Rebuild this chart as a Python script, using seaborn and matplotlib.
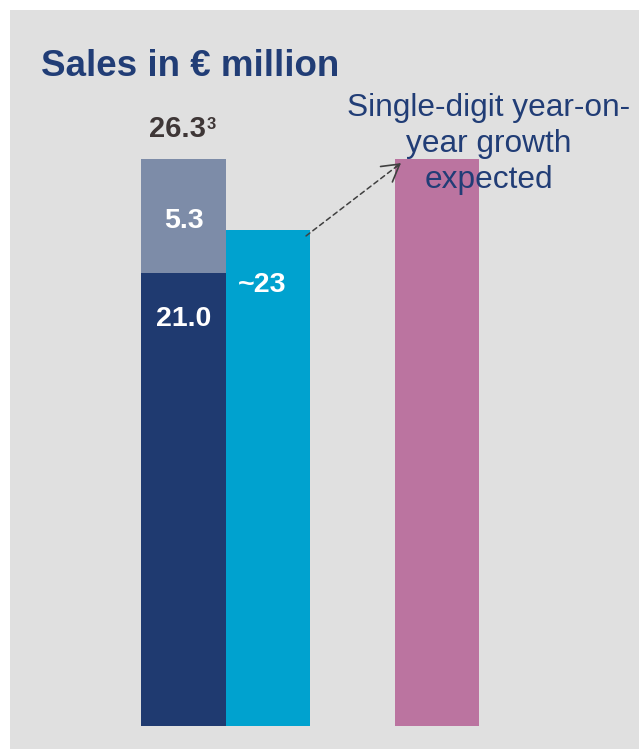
import matplotlib
matplotlib.use("Agg")
import pandas as pd
import seaborn as sns
import matplotlib.pyplot as plt

# ---- data -------------------------------------------------------------
periods = ["Prior year", "Current year", "Next year"]
totals = [26.3, 23.0, 26.3]          # bar heights, € million
base_part = 21.0                      # lower segment of the first bar
top_part = 5.3                        # upper segment of the first bar
footnote = "3"

# ---- style ------------------------------------------------------------
NAVY = "#1f3a70"
SLATE = "#7d8ca8"
CYAN = "#00a2cf"
MAUVE = "#bb74a0"
PANEL = "#e0e0e0"
TEXT_BLUE = "#213d76"
TEXT_DARK = "#3e3636"

sns.set_style("white")
plt.rcParams["font.family"] = ["Liberation Sans", "DejaVu Sans"]

W, H = 639, 749
fig = plt.figure(figsize=(W / 100, H / 100), dpi=100, facecolor="white")
PANEL_L, PANEL_T = 10, 10
ax = fig.add_axes([PANEL_L / W, 0, (W - PANEL_L) / W, (H - PANEL_T) / H])
ax.set_facecolor(PANEL)

# slot between the current year and the outlook bar stays empty
order = [periods[0], periods[1], "", periods[2]]

df = pd.DataFrame({"period": periods, "sales": totals})
sns.barplot(data=df, x="period", y="sales", hue="period", order=order,
            hue_order=periods, palette=[SLATE, CYAN, MAUVE], width=1.0,
            dodge=False, errorbar=None, legend=False, linewidth=0,
            saturation=1, ax=ax)
sns.barplot(x=[periods[0]], y=[base_part], order=order, color=NAVY,
            width=1.0, errorbar=None, linewidth=0, saturation=1, ax=ax)

# scale: one category slot = 84.5 px, one € million = 21.56 px
UNIT_X, UNIT_Y, X0_PX, BASE_PX = 84.5, 21.56, 183.5, 726
ax.set_xlim((PANEL_L - X0_PX) / UNIT_X, (W - X0_PX) / UNIT_X)
ax.set_ylim(-(H - BASE_PX) / UNIT_Y, (BASE_PX - PANEL_T) / UNIT_Y)
ax.set_xticks([])
ax.set_yticks([])
ax.set_xlabel("")
ax.set_ylabel("")
for s in ax.spines.values():
    s.set_visible(False)

# ---- value labels -----------------------------------------------------
lab = dict(textcoords="offset points", fontweight="bold", va="baseline",
           ha="center")
total_txt = ax.annotate(f"{totals[0]:.1f}", xy=(0, totals[0]), xytext=(-4.7, 15.8),
                        fontsize=21, color=TEXT_DARK, **lab)
ax.annotate(footnote, xy=(1, 1), xycoords=total_txt, xytext=(1.2, -1.2),
            textcoords="offset points", fontsize=12, fontweight="bold",
            color=TEXT_DARK, ha="left", va="top")
ax.annotate(f"{top_part:.1f}", xy=(0, base_part + top_part / 2), xytext=(0, -8.6),
            fontsize=20.5, color="white", **lab)
ax.annotate(f"{base_part:.1f}", xy=(0, base_part), xytext=(0, -38),
            fontsize=20.5, color="white", **lab)
ax.annotate(f"~{totals[1]:.0f}", xy=(1, totals[1]), xytext=(-4.3, -44.6),
            fontsize=20.5, color="white", **lab)

# dashed growth arrow from the current bar to the outlook bar
start = (1.45, totals[1] - 0.27)
end = (3 - 0.426, totals[2] - 0.19)
ax.annotate("", xy=end, xytext=start,
            arrowprops=dict(arrowstyle="-", color="#404040", lw=1.1,
                            linestyle=(0, (3.2, 2.4)), shrinkA=0, shrinkB=0))
dx, dy = end[0] - start[0], end[1] - start[1]
ax.annotate("", xy=end, xytext=(end[0] - dx * 0.06, end[1] - dy * 0.06),
            arrowprops=dict(arrowstyle="->,head_length=1.2,head_width=0.7",
                            mutation_scale=10, color="#404040", lw=1.2,
                            shrinkA=0, shrinkB=0))

# ---- headings ---------------------------------------------------------
fig.text(41 / W, 1 - 76 / H, "Sales in € million", fontsize=26.5,
         fontweight="bold", color=TEXT_BLUE, ha="left", va="baseline")
fig.text(489 / W, 1 - 188 / H, "Single-digit year-on-\nyear growth\nexpected",
         fontsize=22.8, color=TEXT_BLUE, ha="center", va="baseline",
         multialignment="center", linespacing=1.27)

fig.savefig("out.png", dpi=100, facecolor="white")
